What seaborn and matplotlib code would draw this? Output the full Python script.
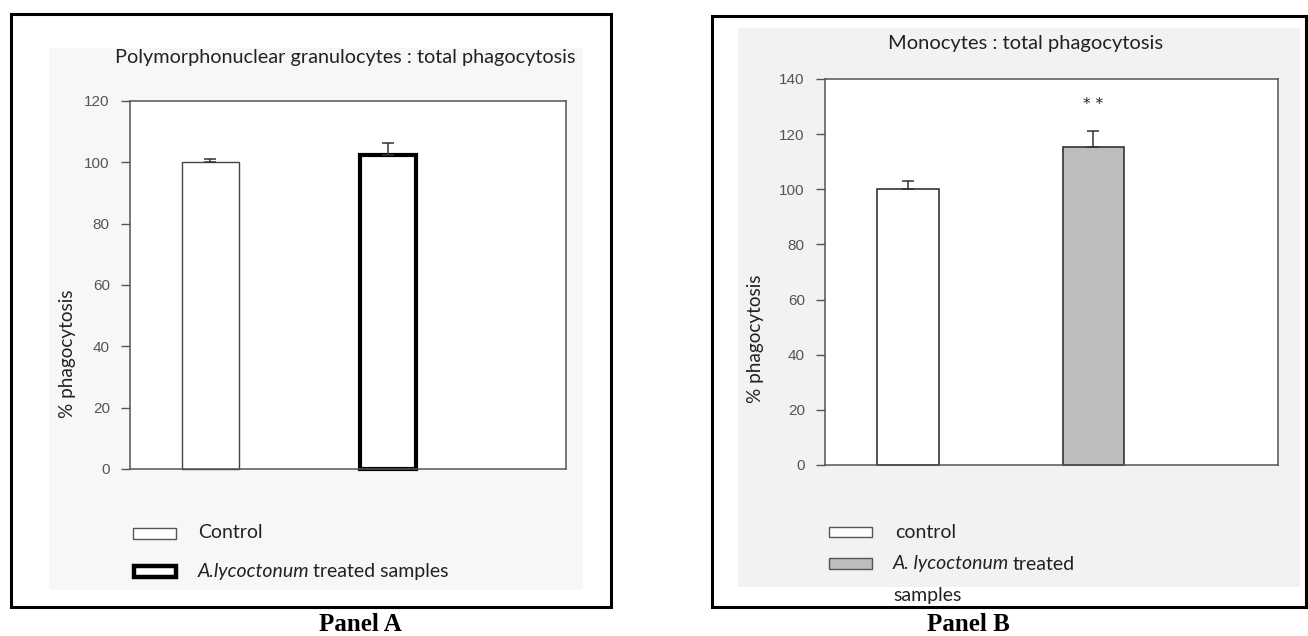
import matplotlib
matplotlib.use("Agg")
import matplotlib.pyplot as plt
import seaborn as sns
import pandas as pd
from matplotlib.patches import Rectangle

# ---------------- data ----------------
groups_a = ["Control", "A.lycoctonum treated samples"]
values_a = [100.0, 102.3]
errors_a = [1.2, 4.0]
yticks_a = [0, 20, 40, 60, 80, 100, 120]
title_a = "Polymorphonuclear granulocytes : total phagocytosis"

groups_b = ["control", "A. lycoctonum treated samples"]
values_b = [100.0, 115.3]
errors_b = [3.0, 5.9]
yticks_b = [0, 20, 40, 60, 80, 100, 120, 140]
title_b = "Monocytes : total phagocytosis"
signif_b = ["", "* *"]
signif_y_b = 130.6

ylabel = "% phagocytosis"

sns.set_theme(style="white")
plt.rcParams["font.family"] = ["Lato", "DejaVu Sans"]

W, H = 1308, 636
fig = plt.figure(figsize=(W / 100, H / 100), dpi=100)
fig.patch.set_facecolor("white")


def fx(px):
    return px / W


def fy(py):
    return 1 - py / H


def rect_px(x0, y0, x1, y1, **kw):
    r = Rectangle((fx(x0), fy(y1)), fx(x1) - fx(x0), fy(y0) - fy(y1),
                  transform=fig.transFigure, **kw)
    fig.add_artist(r)
    return r


# panel backgrounds and frames
rect_px(49, 48, 583, 590, facecolor="#f7f7f7", edgecolor="none", zorder=0)
rect_px(738, 28, 1300, 587, facecolor="#f2f2f2", edgecolor="none", zorder=0)
rect_px(11, 14, 611, 607, facecolor="none", edgecolor="black", lw=2.2, zorder=5)
rect_px(712, 16, 1306, 607, facecolor="none", edgecolor="black", lw=2.2, zorder=5)


def make_panel(ax_box, groups, values, errors, yticks, ylim, xlim, width,
               fills, edges, lws):
    ax = fig.add_axes(ax_box)
    ax.set_facecolor("white")
    df = pd.DataFrame({"group": groups, "value": values})
    sns.barplot(data=df, x="group", y="value", hue="group", order=groups,
                hue_order=groups, palette=dict(zip(groups, fills)),
                errorbar=None, width=width, legend=False, ax=ax, zorder=2)
    for p, ec, lw in zip(ax.patches, edges, lws):
        p.set_edgecolor(ec)
        p.set_linewidth(lw)
        p.set_clip_on(False)
    ax.errorbar(x=list(range(len(groups))), y=values,
                yerr=[[0] * len(errors), errors], fmt="none", ecolor="#333333",
                elinewidth=1.1, capsize=4, capthick=1.1, zorder=3)
    ax.set_ylim(*ylim)
    ax.set_xlim(*xlim)
    ax.set_yticks(yticks)
    ax.set_yticklabels([str(t) for t in yticks], fontsize=11, color="#555555",
                       family="Liberation Sans")
    ax.set_xticks([])
    ax.set_xlabel("")
    ax.set_ylabel("")
    for s in ax.spines.values():
        s.set_color("#555555")
        s.set_linewidth(1.1)
        s.set_visible(True)
    ax.tick_params(axis="y", direction="out", length=6.5, width=1.0,
                   color="#555555", pad=8, left=True)
    return ax


ax_a = make_panel([fx(130), fy(469), fx(566) - fx(130), fy(101) - fy(469)],
                  groups_a, values_a, errors_a, yticks_a, (0, 120),
                  (-0.4535, 2.003), 0.32,
                  ["white", "white"], ["#444444", "black"], [1.0, 3.0])

ax_b = make_panel([fx(825), fy(465), fx(1278) - fx(825), fy(79) - fy(465)],
                  groups_b, values_b, errors_b, yticks_b, (0, 140),
                  (-0.447, 1.995), 0.33,
                  ["white", "#bdbdbd"], ["#333333", "#333333"], [1.2, 1.2])

for i, s in enumerate(signif_b):
    if s:
        ax_b.text(i, signif_y_b, s, ha="center", va="center", fontsize=11,
                  color="#222222", family="DejaVu Sans")

# titles and y labels
fig.text(fx(345), fy(57), title_a, ha="center", va="center", fontsize=14.3,
         color="#222222")
fig.text(fx(1026), fy(43), title_b, ha="center", va="center", fontsize=14.5,
         color="#222222")
fig.text(fx(67), fy(354), ylabel, ha="center", va="center", rotation=90,
         fontsize=13.7, color="#222222")
fig.text(fx(755), fy(339), ylabel, ha="center", va="center", rotation=90,
         fontsize=13.7, color="#222222")

# legends
renderer = fig.canvas.get_renderer()
LFS = 14


def mixed_text(x, y, italic, normal):
    t1 = fig.text(fx(x), fy(y), italic, ha="left", va="center", fontsize=LFS,
                  style="italic", color="#222222")
    bb = t1.get_window_extent(renderer=renderer)
    fig.text(bb.x1 / W + fx(3), fy(y), normal, ha="left", va="center",
             fontsize=LFS, color="#222222")


rect_px(133, 528, 176, 539, facecolor="white", edgecolor="#555555", lw=1.0,
        zorder=6)
fig.text(fx(198), fy(532), groups_a[0], ha="left", va="center", fontsize=LFS,
         color="#222222")
rect_px(134, 566, 176, 577, facecolor="white", edgecolor="black", lw=3.2,
        zorder=6)
mixed_text(198, 571, "A.lycoctonum", "treated samples")

rect_px(829, 527, 872, 537, facecolor="white", edgecolor="#555555", lw=1.0,
        zorder=6)
fig.text(fx(895), fy(532), groups_b[0], ha="left", va="center", fontsize=LFS,
         color="#222222")
rect_px(829, 558, 872, 569, facecolor="#bdbdbd", edgecolor="#555555", lw=1.0,
        zorder=6)
mixed_text(893, 564, "A. lycoctonum", "treated")
fig.text(fx(893), fy(595), "samples", ha="left", va="center", fontsize=LFS,
         color="#222222")

# panel captions
fig.text(fx(360), fy(631), "Panel A", ha="center", va="baseline", fontsize=18,
         weight="bold", family="Liberation Serif", color="black")
fig.text(fx(968), fy(631), "Panel B", ha="center", va="baseline", fontsize=18,
         weight="bold", family="Liberation Serif", color="black")

fig.savefig("out.png", dpi=100)
